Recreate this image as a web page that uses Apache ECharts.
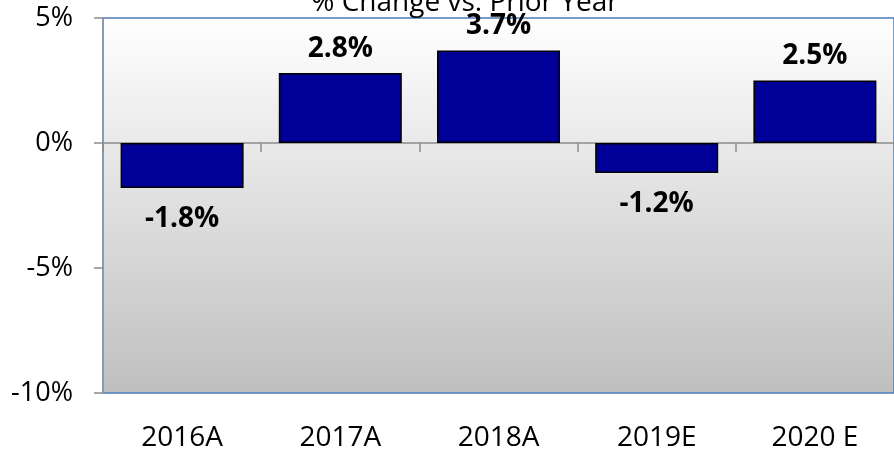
<!DOCTYPE html>
<html>
<head>
<meta charset="utf-8">
<title>% Change vs. Prior Year</title>
<script src="https://cdn.jsdelivr.net/npm/echarts@6/dist/echarts.min.js"></script>
<style>
  html, body { margin: 0; padding: 0; background: #ffffff; }
  #chart { width: 894px; height: 452px; }
</style>
</head>
<body>
<div id="chart"></div>
<script>
// Year-over-year change, actuals (A) and estimates (E)
const categories = ['2016A', '2017A', '2018A', '2019E', '2020 E'];
const changePct = [-1.8, 2.8, 3.7, -1.2, 2.5];
const chartTitle = '% Change vs. Prior Year';
const yMin = -10;
const yMax = 5;
const yStep = 5;

const FONT = '"Open Sans", "Liberation Sans", sans-serif';

const chart = echarts.init(document.getElementById('chart'), null, { renderer: 'canvas' });

// positive changes are labelled above the bar, negative ones below it
const barData = changePct.map(v => ({
  value: v,
  label: v >= 0 ? { position: 'top', distance: 10 } : { position: 'bottom', distance: 17 }
}));

chart.setOption({
  animation: false,
  backgroundColor: '#ffffff',
  graphic: [{
    type: 'text',
    x: 465,
    y: 3,
    style: {
      text: chartTitle,
      font: '28px ' + FONT,
      fill: '#000000',
      textAlign: 'center',
      textVerticalAlign: 'middle'
    },
    z: 10
  }],
  grid: {
    left: 103,
    top: 18,
    width: 800,
    height: 377,
    show: true,
    borderColor: '#4a7ebb',
    borderWidth: 1.5,
    backgroundColor: new echarts.graphic.LinearGradient(0, 0, 0, 1, [
      { offset: 0, color: '#ffffff' },
      { offset: 1, color: '#bfbfbf' }
    ])
  },
  xAxis: [{
    type: 'category',
    data: categories,
    position: 'bottom',
    axisLine: { show: true, onZero: true, lineStyle: { color: '#8c8c8c', width: 1.5 } },
    axisTick: { show: true, length: 9, lineStyle: { color: '#8c8c8c', width: 1.5 } },
    axisLabel: { show: false },
    splitLine: { show: false }
  }, {
    type: 'category',
    data: categories,
    position: 'bottom',
    axisLine: { show: false, onZero: false },
    axisTick: { show: false },
    axisLabel: {
      show: true,
      margin: 31,
      color: '#000000',
      fontFamily: FONT,
      fontSize: 28
    },
    splitLine: { show: false }
  }],
  yAxis: {
    type: 'value',
    min: yMin,
    max: yMax,
    interval: yStep,
    axisLine: { show: true, lineStyle: { color: '#8a9ab4', width: 2 } },
    axisTick: { show: true, inside: false, length: 9, lineStyle: { color: '#8c8c8c', width: 1.5 } },
    axisLabel: {
      margin: 30,
      color: '#000000',
      fontFamily: FONT,
      fontSize: 27,
      formatter: '{value}%'
    },
    splitLine: { show: false }
  },
  series: [{
    type: 'bar',
    xAxisIndex: 0,
    data: barData,
    barWidth: 123,
    itemStyle: { color: '#000099', borderColor: '#000000', borderWidth: 1.5 },
    label: {
      show: true,
      color: '#000000',
      fontFamily: FONT,
      fontWeight: 'bold',
      fontSize: 28,
      formatter: p => p.value.toFixed(1) + '%'
    },
    z: 3
  }]
});
</script>
</body>
</html>
